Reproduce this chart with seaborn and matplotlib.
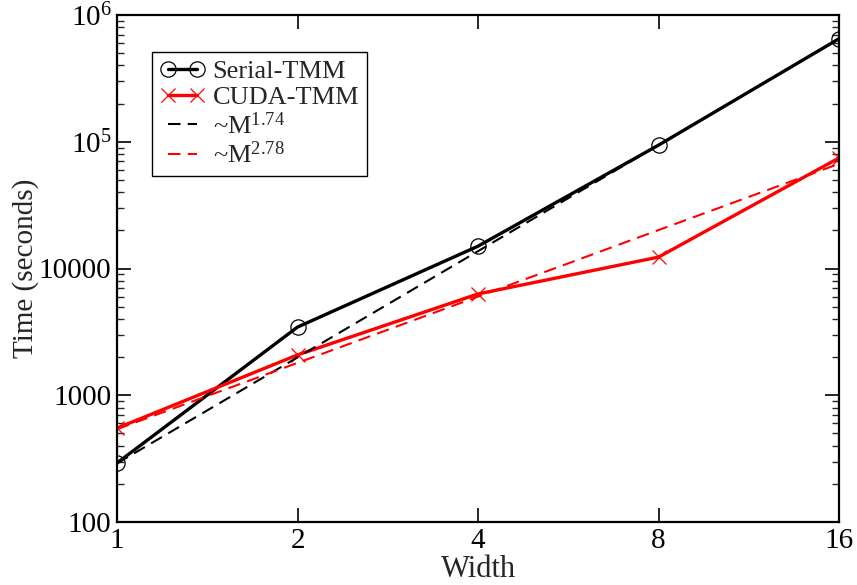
import numpy as np
import pandas as pd
import matplotlib
matplotlib.use("Agg")
import matplotlib.pyplot as plt
import seaborn as sns
from matplotlib.ticker import FixedLocator, FixedFormatter, LogLocator, NullFormatter, NullLocator

# Data
width = [1, 2, 4, 8, 16]
serial_tmm = [292, 3450, 15000, 94000, 650000]
cuda_tmm = [550, 2080, 6300, 12300, 74500]
fit_black = [290, 1990, 13700, 94000, 650000]   # legend: ~M^1.74
fit_red = [540, 1800, 6000, 20100, 67000]       # legend: ~M^2.78
ytick_vals = [100, 1000, 10000, 100000, 1000000]
ytick_labels = ["100", "1000", "10000", r"$10^{5}$", r"$10^{6}$"]
xtick_labels = ["1", "2", "4", "8", "16"]

sns.set_theme(style="ticks")
plt.rcParams["font.family"] = ["Liberation Serif", "DejaVu Serif"]
plt.rcParams["mathtext.fontset"] = "custom"
plt.rcParams["mathtext.rm"] = "Liberation Serif"
plt.rcParams["mathtext.it"] = "Liberation Serif:italic"
plt.rcParams["mathtext.bf"] = "Liberation Serif:bold"

fig = plt.figure(figsize=(8.57, 5.85), dpi=100)
ax = fig.add_axes([117/857, 1 - 522/585, (839-117)/857, (522-15)/585])

df_s = pd.DataFrame({"Width": width, "Time": serial_tmm})
df_c = pd.DataFrame({"Width": width, "Time": cuda_tmm})
df_fb = pd.DataFrame({"Width": width, "Time": fit_black})
df_fr = pd.DataFrame({"Width": width, "Time": fit_red})

dash = (0, (6, 3.5))
sns.lineplot(data=df_s, x="Width", y="Time", ax=ax, color="black", lw=2.4,
             marker="o", markersize=11, markerfacecolor="none",
             markeredgecolor="black", markeredgewidth=0.9, label="Serial-TMM")
sns.lineplot(data=df_c, x="Width", y="Time", ax=ax, color="red", lw=2.4,
             marker="x", markersize=10, markeredgecolor="red",
             markeredgewidth=0.9, label="CUDA-TMM")
sns.lineplot(data=df_fb, x="Width", y="Time", ax=ax, color="black", lw=1.5,
             linestyle=dash, label=r"~M$^{1.74}$")
sns.lineplot(data=df_fr, x="Width", y="Time", ax=ax, color="red", lw=1.5,
             linestyle=dash, label=r"~M$^{2.78}$")

ax.set_xscale("log", base=2)
ax.set_yscale("log")
ax.set_xlim(1, 16)
ax.set_ylim(100, 1e6)

ax.xaxis.set_major_locator(FixedLocator(width))
ax.xaxis.set_major_formatter(FixedFormatter(xtick_labels))
ax.xaxis.set_minor_locator(NullLocator())
ax.yaxis.set_major_locator(FixedLocator(ytick_vals))
ax.yaxis.set_major_formatter(FixedFormatter(ytick_labels))
ax.yaxis.set_minor_locator(LogLocator(base=10, subs=np.arange(2, 10)))
ax.yaxis.set_minor_formatter(NullFormatter())

ax.tick_params(which="major", direction="in", length=10, width=1.2,
               top=True, right=True, labelsize=21, pad=4, colors="black")
ax.tick_params(which="minor", direction="in", length=5, width=1.0,
               right=True, left=True)
for s in ax.spines.values():
    s.set_linewidth(1.6)
    s.set_color("black")

ax.set_xlabel("Width", fontsize=22, labelpad=1)
ax.set_ylabel("Time (seconds)", fontsize=21, labelpad=0)

leg = ax.legend(loc="upper left",
                bbox_to_anchor=((152 - 117) / 722, 1 - (52 - 15) / 507),
                bbox_transform=ax.transAxes, fontsize=19, frameon=True,
                fancybox=False, edgecolor="black", handlelength=1.7,
                numpoints=2, borderaxespad=0, labelspacing=0.1,
                handletextpad=0.3, borderpad=0.3)
leg.get_frame().set_linewidth(1.0)
leg.get_frame().set_alpha(1)

fig.savefig("out.png", dpi=100)
